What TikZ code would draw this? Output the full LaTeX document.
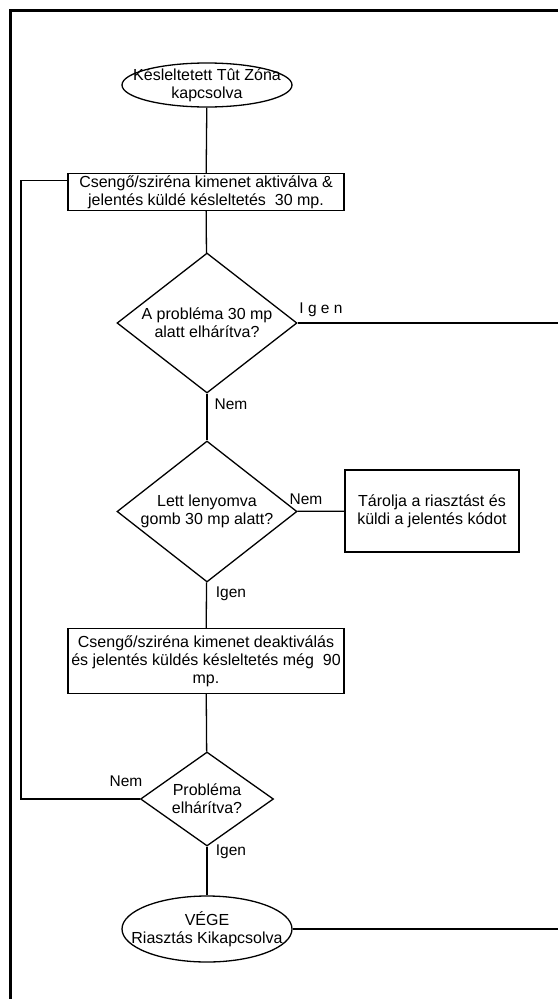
\documentclass[tikz,border=0pt]{standalone}
\usepackage{fontspec}
\setmainfont{Liberation Sans}
\usetikzlibrary{shapes.geometric,calc}
\begin{document}
\begin{tikzpicture}[x=1pt,y=-1pt,
  every node/.style={font=\fontsize{16}{18}\selectfont},
  conn/.style={line width=1.3pt},
  frame/.style={line width=3pt},
  box/.style={draw, line width=1.3pt, rectangle, align=center, inner sep=2pt},
  term/.style={draw, line width=1.3pt, ellipse, inner sep=0pt},
  dia/.style={draw, line width=1.3pt, diamond, inner sep=0pt},
  txt/.style={align=center, inner sep=0pt},
  lbl/.style={inner sep=0pt, font=\fontsize{15.5}{17}\selectfont}]
\useasboundingbox (0,0) rectangle (558,999);
\draw[frame] (10,999) -- (10,10) -- (558,10);

\node[term, minimum width=170pt, minimum height=44pt] (s) at (207,85) {};
\node[txt] (st) at (s) {Késleltetett Tût Zóna\\kapcsolva};

\node[box, minimum width=276pt, minimum height=29pt] (b1) at (206,192)
  {Csengő/sziréna kimenet aktiválva \&\\jelentés küldé késleltetés\ \ 30 mp.};

\node[dia, minimum width=180pt, minimum height=140pt] (d1) at (207,323) {};
\node[txt] (d1t) at (d1) {A probléma 30 mp\\alatt elhárítva?};

\node[dia, minimum width=180pt, minimum height=141pt] (d2) at (207,511.5) {};
\node[txt] (d2t) at (d2) {Lett lenyomva\\gomb 30 mp alatt?};

\node[box, minimum width=174pt, minimum height=82pt] (b2) at (432,511)
  {Tárolja a riasztást és\\küldi a jelentés kódot};

\node[box, minimum width=276pt, minimum height=65pt] (b3) at (206,661)
  {Csengő/sziréna kimenet deaktiválás\\és jelentés küldés késleltetés még\ \ 90\\mp.};

\node[dia, minimum width=133pt, minimum height=94pt] (d3) at (207,799) {};
\node[txt] (d3t) at (d3) {Probléma\\elhárítva?};

\node[term, minimum width=170pt, minimum height=66pt] (e) at (207,929) {};
\node[txt] (et) at (e) {VÉGE\\Riasztás Kikapcsolva};

\node[lbl] (l1) at (321,310) {I g e n};
\node[lbl] (l2) at (231,404) {Nem};
\node[lbl] (l3) at (306,499) {Nem};
\node[lbl] (l4) at (231,594) {Igen};
\node[lbl] (l5) at (126,781) {Nem};
\node[lbl] (l6) at (231,852) {Igen};

\coordinate (r1) at (558,323);
\coordinate (r2) at (558,929);
\coordinate (b1a) at ($(b1.north west)!0.2!(b1.south west)$);
\coordinate (fb) at (21,0);

\draw[conn] (s) -- (b1);
\draw[conn] (b1) -- (d1);
\draw[conn] (d1) -- (d2);
\draw[conn] (d2) -- (b2);
\draw[conn] (d2) -- (b3);
\draw[conn] (b3) -- (d3);
\draw[conn] (d3) -- (e);
\draw[conn] (d1.east) -- (r1);
\draw[conn] (e.east) -- (r2);
\draw[conn] (d3.west) -- (fb |- d3.west) -- (fb |- b1a) -- (b1a);
\end{tikzpicture}
\end{document}
